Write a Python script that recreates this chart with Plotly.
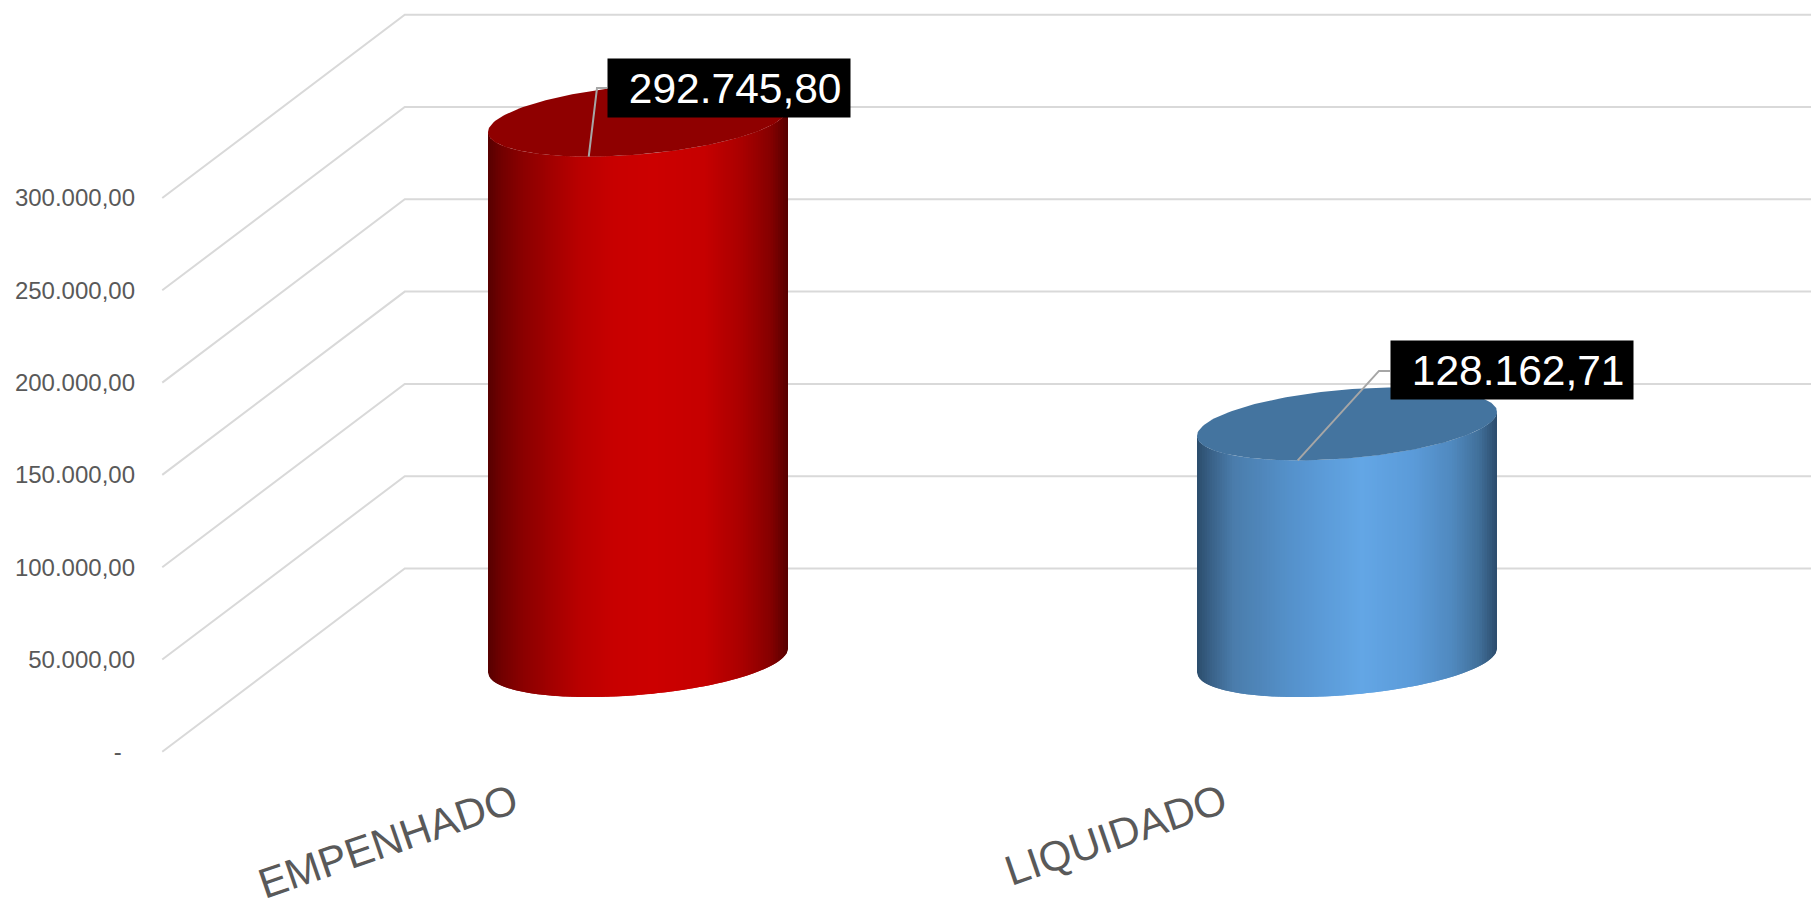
import numpy as np
import plotly.graph_objects as go

categories = ["EMPENHADO", "LIQUIDADO"]
values = [292745.80, 128162.71]
value_labels = ["292.745,80", "128.162,71"]
tick_values = [0, 50000, 100000, 150000, 200000, 250000, 300000]
tick_labels = ["-\u00a0\u00a0", "50.000,00", "100.000,00", "150.000,00", "200.000,00", "250.000,00", "300.000,00"]

W, H = 1811, 899
L, B = 150, 139
PX_CAT = 709.0            # pixels per category
PX_X0 = 638.0             # pixel of category 0 centre
K = 92.3 / 50000          # pixels per value unit
PX_Y0 = 660.5             # pixel of value 0 on the cylinder plane
to_dx = lambda p: p / PX_CAT
to_dy = lambda p: p / K

x_range = [to_dx(L - PX_X0), to_dx(W - PX_X0)]
y_range = [to_dy(PX_Y0 - (H - B)), to_dy(PX_Y0)]

FRONT_DX, FRONT_DY = to_dx(-121.25), to_dy(-91.3)
BACK_DX, BACK_DY = to_dx(121.25), to_dy(92.0)
LABEL_SHIFT = to_dx(-3)   # rotated category labels end just left of the floor centre

RX = to_dx(150)           # cylinder half-width
SHEAR = to_dy(12)         # tilt of the elliptical caps
RY = to_dy(34.5)          # half-height of the caps

grid_color = "#d9d9d9"
text_color = "#595959"
red_stops = [(0, "#560000"), (.05, "#740000"), (.12, "#8c0000"), (.3, "#b80000"), (.42, "#c80000"),
             (.55, "#cc0000"), (.72, "#c60000"), (.85, "#a80000"), (.94, "#860000"), (1, "#560000")]
blue_stops = [(0, "#2b4c6c"), (.05, "#3a6389"), (.12, "#4a7cab"), (.3, "#5490c9"), (.42, "#5b9bd8"),
              (.55, "#63a6e5"), (.72, "#5b9bd9"), (.85, "#5089bf"), (.94, "#41709a"), (1, "#2b4c6c")]
top_colors = ["#8f0000", "#44749f"]
stop_sets = [red_stops, blue_stops]


def hex2rgb(h):
    return np.array([int(h[i:i + 2], 16) for i in (1, 3, 5)], float)


def ramp(stops, u):
    pos = [s[0] for s in stops]
    rgb = np.array([hex2rgb(s[1]) for s in stops])
    c = [np.interp(u, pos, rgb[:, j]) for j in range(3)]
    return "rgb(%d,%d,%d)" % tuple(round(v) for v in c)


def cap_front(u):
    """Vertical offset, in value units, of the near edge of a cap; u in [-1, 1]."""
    return SHEAR * u - RY * np.sqrt(np.clip(1 - u * u, 0, 1))


fig = go.Figure()

# wall and side gridlines
for v in tick_values:
    fig.add_trace(go.Scatter(
        x=[-0.5 + FRONT_DX, -0.5 + BACK_DX, x_range[1]],
        y=[v + FRONT_DY, v + BACK_DY, v + BACK_DY],
        mode="lines", line=dict(color=grid_color, width=2), hoverinfo="skip", showlegend=False))

# cylinders
N = 120
for i, val in enumerate(values):
    edges = np.linspace(-1, 1, N + 1)
    fine = np.linspace(-1, 1, 241)
    for j in range(N):
        u0, u1 = edges[j], edges[min(j + 2, N)]
        us = fine[(fine >= u0 - 1e-9) & (fine <= u1 + 1e-9)]
        xs = i + RX * us
        col = ramp(stop_sets[i], (j + .5) / N)
        fig.add_trace(go.Scatter(
            x=np.concatenate([xs, xs[::-1]]),
            y=np.concatenate([val + cap_front(us), (cap_front(us))[::-1]]),
            mode="lines", fill="toself", fillcolor=col, line=dict(width=0),
            hoverinfo="skip", showlegend=False))
    t = np.linspace(0, 2 * np.pi, 181)
    fig.add_trace(go.Scatter(
        x=i + RX * np.cos(t),
        y=val + SHEAR * np.cos(t) + RY * np.sin(t),
        mode="lines", fill="toself", fillcolor=top_colors[i], line=dict(width=0),
        hoverinfo="skip", showlegend=False))

# leaders and value boxes
box_dx = [to_dx(-31), to_dx(43)]
box_dy = [to_dy(32), to_dy(53.5)]
knee_dx = [to_dx(-41), to_dx(32)]
knee_dy = [to_dy(32), to_dy(53)]
ustart = -SHEAR / np.hypot(SHEAR, RY)
for i, val in enumerate(values):
    fig.add_trace(go.Scatter(
        x=[i + RX * ustart, i + knee_dx[i], i + box_dx[i]],
        y=[val - np.hypot(SHEAR, RY), val + knee_dy[i], val + knee_dy[i]],
        mode="lines", line=dict(color="#a6a6a6", width=2), hoverinfo="skip", showlegend=False))
    fig.add_annotation(
        x=i + box_dx[i], y=val + box_dy[i], xref="x", yref="y", xanchor="left", yanchor="middle",
        text=value_labels[i] + "\u2009", showarrow=False, bgcolor="#000000", width=242, height=58,
        align="right", valign="middle", borderpad=0,
        font=dict(family="Liberation Sans", size=42.5, color="#ffffff"))

fig.update_layout(
    width=W, height=H, autosize=False,
    margin=dict(l=L, r=0, t=0, b=B, pad=0),
    paper_bgcolor="#ffffff", plot_bgcolor="#ffffff", showlegend=False,
    xaxis=dict(range=x_range, showgrid=False, zeroline=False, showline=False, automargin=False,
               tickmode="array", tickvals=[i + FRONT_DX + LABEL_SHIFT for i in range(len(categories))],
               ticktext=categories, tickangle=-19, ticks="", ticklabelstandoff=9,
               tickfont=dict(family="Liberation Sans", size=42, color=text_color)),
    yaxis=dict(range=y_range, showgrid=False, zeroline=False, showline=False, automargin=False,
               tickmode="array", tickvals=[v + FRONT_DY for v in tick_values],
               ticktext=tick_labels, ticks="", ticklabelstandoff=14,
               tickfont=dict(family="Liberation Sans", size=24, color=text_color)),
)

fig.write_html("out.html", config=dict(displayModeBar=False, staticPlot=True),
               post_script="document.body.style.margin='0';")
